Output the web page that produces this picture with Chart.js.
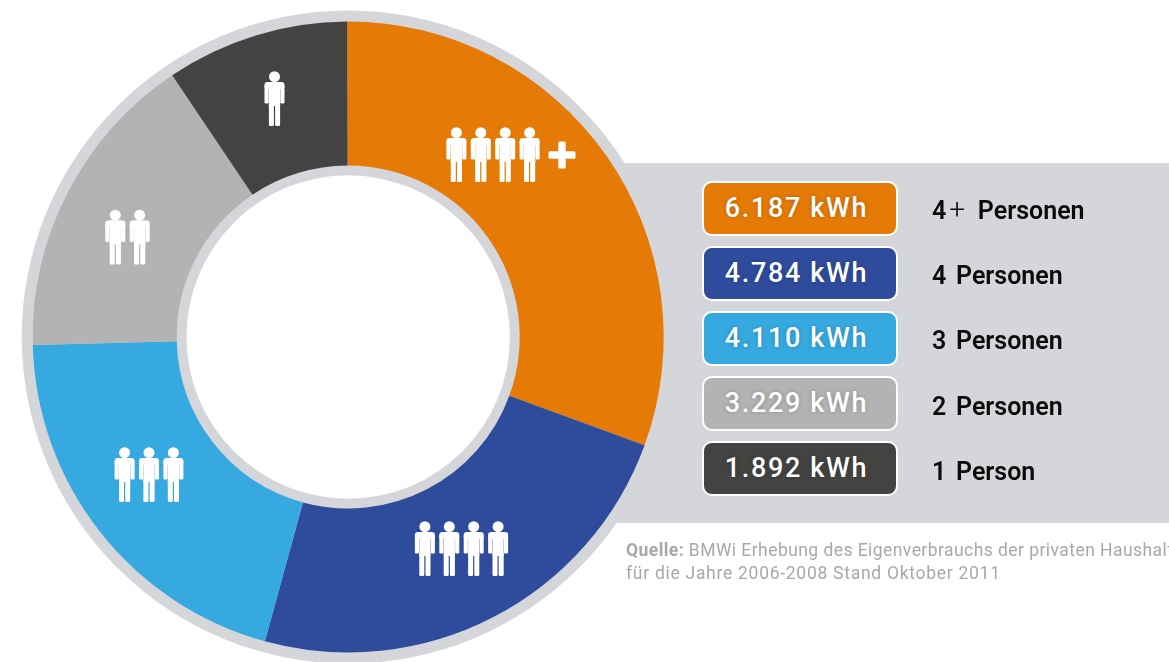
<!DOCTYPE html>
<html lang="de"><head><meta charset="utf-8">
<style>
html,body{margin:0;padding:0;background:#fff;width:1169px;height:662px;overflow:hidden}
#wrap{position:relative;width:1169px;height:662px;overflow:hidden;font-family:Roboto,sans-serif}
#panel{position:absolute;left:600px;top:163px;width:569px;height:360px;background:#d5d6da}
canvas{position:absolute;left:0;top:0}
.box{position:absolute;box-sizing:border-box;left:701.5px;width:196px;height:55px;border:2.5px solid #fff;border-radius:10px;padding-right:6px;color:#fff;font:500 27px Roboto,sans-serif;letter-spacing:1.65px;line-height:50px;text-align:center;text-shadow:0 0 4px rgba(0,0,0,.22)}
.lab{position:absolute;left:932px;font:600 25px Roboto,sans-serif;color:#0a0a0a;line-height:30px;white-space:pre;word-spacing:3.5px}
.lab .p{font-weight:300;font-size:28px;margin:0 3px 0 3px;line-height:20px}
.src{position:absolute;left:626px;font:400 17.5px Roboto,sans-serif;color:#a8a8a8;white-space:nowrap;line-height:20px}
.src b{font-weight:700}
</style></head>
<body>
<div id="wrap">
<div id="panel"></div>
<canvas id="c" width="1169" height="662"></canvas>
<div id="legend"></div>
<div class="src" style="top:540px;letter-spacing:.44px"><b>Quelle:</b> BMWi Erhebung des Eigenverbrauchs der privaten Haushalte</div>
<div class="src" style="top:563px;letter-spacing:.72px">für die Jahre 2006-2008 Stand Oktober 2011</div>
</div>
<script src="https://cdn.jsdelivr.net/npm/chart.js@4"></script>
<script>
const categories = ["4+ Personen","4 Personen","3 Personen","2 Personen","1 Person"];
const values = [6187,4784,4110,3229,1892];
const colors = ["#e57a07","#2f4c9c","#36a9e1","#b3b3b3","#434341"];
const peopleCounts = [4,4,3,2,1];
const plusFlags = [true,false,false,false,false];

const iconCentres = [[493,155],[461.5,549],[149,475],[127.5,237.5],[274.5,99]];
const ringColor = "#d5d6da";

function person(ctx,cx,cy){
  ctx.beginPath();ctx.arc(cx,cy-22.3,5.5,0,Math.PI*2);ctx.fill();
  ctx.beginPath();ctx.roundRect(cx-10,cy-17,20,7,3);ctx.fill();
  ctx.fillRect(cx-5.6,cy-17,11.2,24);
  ctx.beginPath();ctx.roundRect(cx-10,cy-14,4.2,18.5,1.3);ctx.fill();
  ctx.beginPath();ctx.roundRect(cx+5.8,cy-14,4.2,18.5,1.3);ctx.fill();
  ctx.beginPath();ctx.roundRect(cx-5.6,cy+4,5,23,1.3);ctx.fill();
  ctx.beginPath();ctx.roundRect(cx+.6,cy+4,5,23,1.3);ctx.fill();
}
const ringPlugin={id:"ring",
  beforeDatasetsDraw(ch){
    const a=ch.getDatasetMeta(0).data[0],ctx=ch.ctx;
    ctx.save();ctx.fillStyle=ringColor;
    ctx.beginPath();ctx.arc(a.x,a.y,a.outerRadius+11,0,Math.PI*2);
    ctx.arc(a.x,a.y,a.innerRadius-9.8,0,Math.PI*2,true);ctx.fill();
    ctx.restore();
  },
  afterDatasetsDraw(ch){
    const ctx=ch.ctx;ctx.save();ctx.fillStyle="#fff";
    peopleCounts.forEach((n,i)=>{
      const [cx,cy]=iconCentres[i],step=24.4;
      for(let k=0;k<n;k++)person(ctx,cx+(k-(n-1)/2)*step,cy);
      if(plusFlags[i]){
        ctx.beginPath();ctx.roundRect(cx+55.5,cy-3.7,27,7.4,1.5);ctx.fill();
        ctx.beginPath();ctx.roundRect(cx+65.3,cy-13.5,7.4,27,1.5);ctx.fill();
      }
    });
    ctx.restore();
  }};
new Chart(document.getElementById("c"),{
  type:"doughnut",
  data:{labels:categories,datasets:[{data:values,backgroundColor:colors,borderWidth:0}]},
  options:{responsive:false,animation:false,
    radius:315.5,cutout:"54.36%",rotation:-0.2,
    layout:{padding:{left:0,right:472.6,top:12,bottom:0}},
    plugins:{legend:{display:false},tooltip:{enabled:false}}},
  plugins:[ringPlugin]
});
const fmt=v=>v.toLocaleString("de-DE")+" kWh";
const leg=document.getElementById("legend");
categories.forEach((c,i)=>{
  const top=181+i*65;
  const b=document.createElement("div");b.className="box";b.style.top=top+"px";b.style.background=colors[i];b.textContent=fmt(values[i]);leg.appendChild(b);
  const l=document.createElement("div");l.className="lab";l.style.top=(top+14.5+(i>2?1:0))+"px";
  const parts=c.split("+");
  if(parts.length>1){
    l.append(parts[0]);
    const s=document.createElement("span");s.className="p";s.textContent="+";l.appendChild(s);
    l.append(parts[1]);
  } else l.textContent=c;
  leg.appendChild(l);
});
</script>
</body></html>
